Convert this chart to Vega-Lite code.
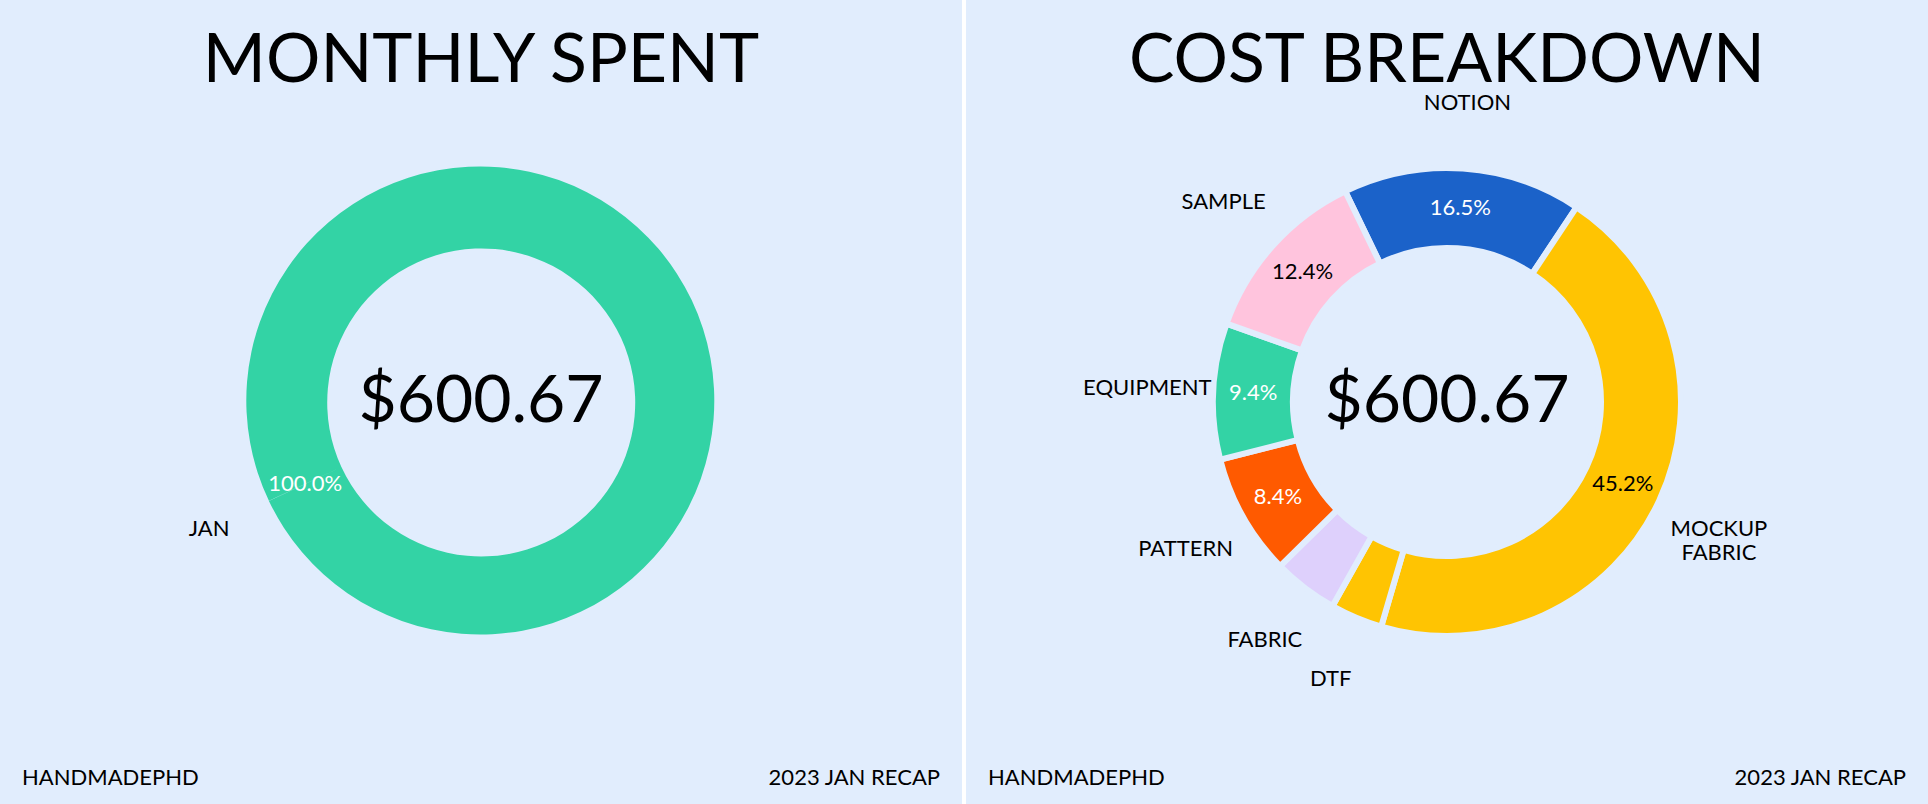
{
  "$schema": "https://vega.github.io/schema/vega-lite/v6.json",
  "background": "white",
  "padding": 0,
  "spacing": 4,
  "config": {"view": {"fill": "#e1edfd", "stroke": null}, "font": "Lato", "text": {"font": "Lato"}},
  "hconcat": [
    {
      "width": 962, "height": 804,
      "data": {"values": [{"cat": "JAN", "value": 600.67, "pct": "100.0%"}]},
      "layer": [
        {"mark": {"type": "arc", "radius": 234, "radius2": 154, "color": "#33d3a5"},
         "encoding": {"theta": {"field": "value", "type": "quantitative", "scale": {"range": [-2.007, 4.276]}}}},
        {"mark": {"type": "text", "radius": 194, "color": "white", "fontSize": 22},
         "encoding": {"theta": {"field": "value", "type": "quantitative", "scale": {"range": [-2.007, 4.276]}}, "text": {"field": "pct"}}},
        {"mark": {"type": "text", "radius": 300, "color": "black", "fontSize": 22},
         "encoding": {"theta": {"field": "value", "type": "quantitative", "scale": {"range": [-2.007, 4.276]}}, "text": {"field": "cat"}}},
        {"mark": {"type": "text", "fontSize": 66, "color": "black", "text": "$600.67"}, "encoding": {}},
        {"mark": {"type": "text", "fontSize": 68, "color": "black", "text": "MONTHLY SPENT"}, "encoding": {"y": {"value": 62}}},
        {"mark": {"type": "text", "fontSize": 22, "color": "black", "align": "left", "text": "HANDMADEPHD"}, "encoding": {"x": {"value": 22}, "y": {"value": 778}}},
        {"mark": {"type": "text", "fontSize": 22, "color": "black", "align": "right", "text": "2023 JAN RECAP"}, "encoding": {"x": {"value": 940}, "y": {"value": 778}}}
      ]
    },
    {
      "width": 962, "height": 804,
      "layer": [
        {
          "data": {"values": [
            {"cat": "NOTION", "value": 16.5, "pct": "16.5%", "dark": false},
            {"cat": "MOCKUP\nFABRIC", "value": 45.2, "pct": "45.2%", "dark": true},
            {"cat": "DTF", "value": 3.6, "pct": "", "dark": true},
            {"cat": "FABRIC", "value": 4.5, "pct": "", "dark": true},
            {"cat": "PATTERN", "value": 8.4, "pct": "8.4%", "dark": false},
            {"cat": "EQUIPMENT", "value": 9.4, "pct": "9.4%", "dark": false},
            {"cat": "SAMPLE", "value": 12.4, "pct": "12.4%", "dark": true}
          ]},
          "transform": [{"window": [{"op": "row_number", "as": "idx"}]}],
          "encoding": {
            "theta": {"field": "value", "type": "quantitative", "stack": true, "scale": {"range": [-0.45, 5.833]}},
            "order": {"field": "idx", "type": "quantitative"}
          },
          "layer": [
            {"mark": {"type": "arc", "radius": 234, "radius2": 154, "stroke": "#e1edfd", "strokeWidth": 6},
             "encoding": {"color": {"field": "cat", "type": "nominal", "legend": null, "sort": null,
               "scale": {"domain": ["NOTION", "MOCKUP\nFABRIC", "DTF", "FABRIC", "PATTERN", "EQUIPMENT", "SAMPLE"],
                         "range": ["#1b62c9", "#ffc402", "#ffc402", "#ded0fc", "#ff5a00", "#33d3a5", "#ffc4dd"]}}}},
            {"mark": {"type": "text", "radius": 194, "fontSize": 22},
             "encoding": {"text": {"field": "pct"},
               "color": {"condition": {"test": "datum.dark", "value": "black"}, "value": "white"}}},
            {"mark": {"type": "text", "radius": 300, "color": "black", "fontSize": 22, "lineBreak": "\n"},
             "encoding": {"text": {"field": "cat"}}}
          ]
        },
        {"data": {"values": [{}]}, "mark": {"type": "text", "fontSize": 66, "color": "black", "text": "$600.67"}, "encoding": {}},
        {"data": {"values": [{}]}, "mark": {"type": "text", "fontSize": 68, "color": "black", "text": "COST BREAKDOWN"}, "encoding": {"y": {"value": 62}}},
        {"data": {"values": [{}]}, "mark": {"type": "text", "fontSize": 22, "color": "black", "align": "left", "text": "HANDMADEPHD"}, "encoding": {"x": {"value": 22}, "y": {"value": 778}}},
        {"data": {"values": [{}]}, "mark": {"type": "text", "fontSize": 22, "color": "black", "align": "right", "text": "2023 JAN RECAP"}, "encoding": {"x": {"value": 940}, "y": {"value": 778}}}
      ]
    }
  ]
}
